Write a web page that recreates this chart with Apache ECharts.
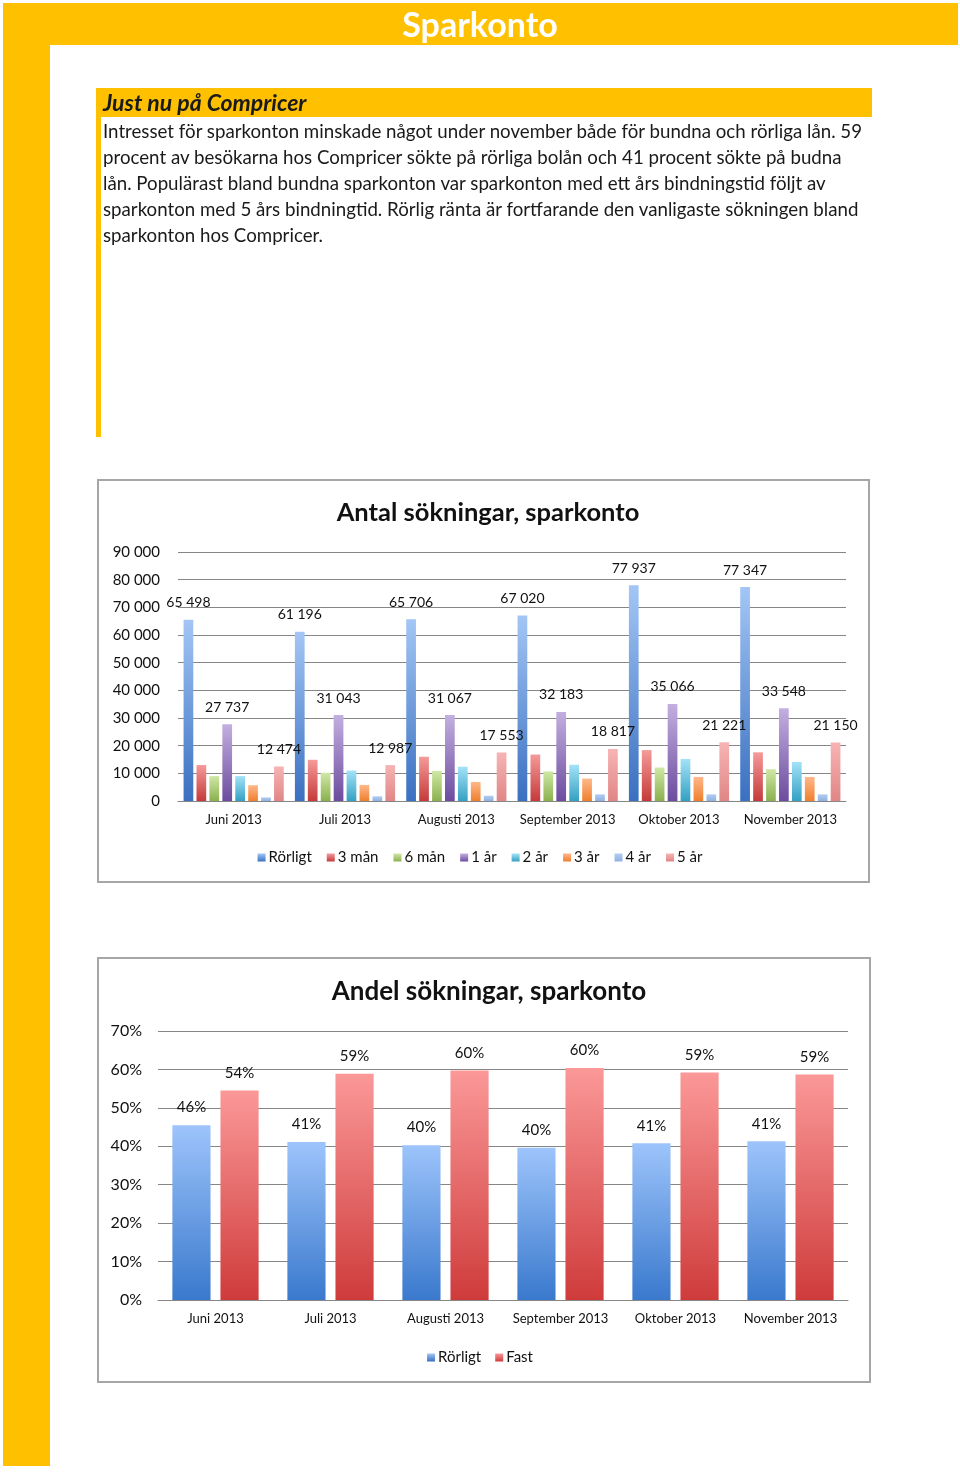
<!DOCTYPE html>
<html>
<head>
<meta charset="utf-8">
<script src="https://cdn.jsdelivr.net/npm/echarts@6/dist/echarts.min.js"></script>
<style>
  html, body { margin:0; padding:0; background:#fff; }
  #chart { position:absolute; left:0; top:0; width:960px; height:1474px; }
  .txt { position:absolute; font-family: Lato, "Open Sans", sans-serif; color:#1a1a1a; }
  #head { left:0; top:3px; width:960px; text-align:center; color:#fff; font-weight:bold; font-size:34px; line-height:42px; }
  #sub { left:103px; top:87px; font-weight:bold; font-style:italic; font-size:23px; line-height:30px; }
  #para { left:103px; top:118px; font-size:18.7px; line-height:26px; white-space:pre; }
</style>
</head>
<body>
<div id="chart"></div>
<div class="txt" id="head">Sparkonto</div>
<div class="txt" id="sub">Just nu på Compricer</div>
<div class="txt" id="para">Intresset för sparkonton minskade något under november både för bundna och rörliga lån. 59
procent av besökarna hos Compricer sökte på rörliga bolån och 41 procent sökte på budna
lån. Populärast bland bundna sparkonton var sparkonton med ett års bindningstid följt av
sparkonton med 5 års bindningtid. Rörlig ränta är fortfarande den vanligaste sökningen bland
sparkonton hos Compricer.</div>
<script>
// ---- Data ----
const months = ['Juni 2013','Juli 2013','Augusti 2013','September 2013','Oktober 2013','November 2013'];
const seriesNames = ['Rörligt','3 mån','6 mån','1 år','2 år','3 år','4 år','5 år'];
const rorligt = [65498, 61196, 65706, 67020, 77937, 77347];
const man3   = [13000, 14900, 16000, 16800, 18400, 17600];
const man6   = [9000, 10200, 10900, 10700, 12100, 11500];
const ar1    = [27737, 31043, 31067, 32183, 35066, 33548];
const ar2    = [9000, 11000, 12400, 13100, 15200, 14100];
const ar3    = [5700, 5800, 6900, 8100, 8700, 8700];
const ar4    = [1300, 1700, 1900, 2400, 2400, 2400];
const ar5    = [12474, 12987, 17553, 18817, 21221, 21150];
const labelledSeries = ['Rörligt','1 år','5 år'];

const shareNames = ['Rörligt','Fast'];
const shareRorligt = [45.5, 41.1, 40.3, 39.6, 40.8, 41.3];
const shareFast    = [54.5, 58.9, 59.7, 60.4, 59.2, 58.7];
const shareLabelsR = ['46%','41%','40%','40%','41%','41%'];
const shareLabelsF = ['54%','59%','60%','60%','59%','59%'];

const countTicks = ['0','10 000','20 000','30 000','40 000','50 000','60 000','70 000','80 000','90 000'];
const pctTicks = ['0%','10%','20%','30%','40%','50%','60%','70%'];

// ---- Styles ----
const FONT = 'Lato, "Open Sans", sans-serif';
function grad(top, bottom) {
  return { type:'linear', x:0, y:0, x2:0, y2:1, colorStops:[{offset:0,color:top},{offset:1,color:bottom}] };
}
const countColors = [
  grad('#a3c6f5','#3a70c0'),
  grad('#f59a9a','#c53a3a'),
  grad('#cfe8a6','#8bb04e'),
  grad('#c3afe0','#6c4c9e'),
  grad('#a3e2f8','#35a0c2'),
  grad('#ffb88a','#ef7f2e'),
  grad('#b2cdf2','#8fb0e0'),
  grad('#f7b4b4','#e08686')
];
const shareColors = [grad('#9dc4fb','#3a79cd'), grad('#fb9898','#cf3b3b')];
const fmt = v => String(Math.round(v)).replace(/\B(?=(\d{3})+(?!\d))/g, ' ');

const countData = [rorligt, man3, man6, ar1, ar2, ar3, ar4, ar5];

const series = [];
countData.forEach((d, i) => {
  const name = seriesNames[i];
  series.push({
    type:'bar', name, xAxisIndex:0, yAxisIndex:0, data:d,
    barGap:'33%', barCategoryGap:'10%',
    itemStyle:{ color:countColors[i] },
    label:{ show: labelledSeries.includes(name), position:'top', distance:10,
            fontSize:14, color:'#111', fontFamily:FONT, formatter:p => fmt(p.value) }
  });
});
const shareData = [shareRorligt, shareFast];
const shareLabels = [shareLabelsR, shareLabelsF];
shareData.forEach((d, i) => {
  series.push({
    type:'bar', name:shareNames[i], xAxisIndex:1, yAxisIndex:1, data:d,
    barGap:'26%', barCategoryGap:'25%',
    itemStyle:{ color:shareColors[i] },
    label:{ show:true, position:'top', distance:10, fontSize:15, color:'#111', fontFamily:FONT,
            formatter:p => shareLabels[i][p.dataIndex] }
  });
});

const chart = echarts.init(document.getElementById('chart'), null, {renderer:'canvas'});
chart.setOption({
  animation:false,
  textStyle:{ fontFamily:FONT },
  graphic:[
    { type:'rect', z:-10, shape:{x:3,y:3,width:955,height:42}, style:{fill:'#ffc000'} },
    { type:'rect', z:-10, shape:{x:3,y:3,width:47,height:1463}, style:{fill:'#ffc000'} },
    { type:'rect', z:-10, shape:{x:100,y:88,width:772,height:29}, style:{fill:'#ffc000'} },
    { type:'rect', z:-10, shape:{x:96,y:88,width:5,height:349}, style:{fill:'#ffc000'} },
    { type:'rect', z:-10, shape:{x:98,y:480,width:771,height:402}, style:{fill:'#fff', stroke:'#a6a6a6', lineWidth:2} },
    { type:'rect', z:-10, shape:{x:98,y:958,width:772,height:424}, style:{fill:'#fff', stroke:'#a6a6a6', lineWidth:2} }
  ],
  title:[
    { text:'Antal sökningar, sparkonto', left:483, top:495, textAlign:'center',
      textStyle:{ fontSize:25.5, fontWeight:'bold', color:'#111', fontFamily:FONT } },
    { text:'Andel sökningar, sparkonto', left:484, top:974, textAlign:'center',
      textStyle:{ fontSize:26, fontWeight:'bold', color:'#111', fontFamily:FONT } }
  ],
  legend:[
    { data:seriesNames, top:845, left:'center', itemWidth:8, itemHeight:8, itemGap:15, icon:'rect',
      textStyle:{ fontSize:15, color:'#111', fontFamily:FONT, padding:[0,0,0,-2] } },
    { data:shareNames, top:1345, left:'center', itemWidth:8, itemHeight:8, itemGap:14, icon:'rect',
      textStyle:{ fontSize:15, color:'#111', fontFamily:FONT, padding:[0,0,0,-2] } }
  ],
  grid:[
    { left:178, top:552, width:668, height:249, containLabel:false },
    { left:158, top:1031, width:690, height:269, containLabel:false }
  ],
  xAxis:[
    { type:'category', gridIndex:0, data:months,
      axisLine:{ lineStyle:{ color:'#868686', width:1 } }, axisTick:{show:false},
      axisLabel:{ interval:0, fontSize:13, color:'#111', margin:12, fontFamily:FONT } },
    { type:'category', gridIndex:1, data:months,
      axisLine:{ lineStyle:{ color:'#868686', width:1 } }, axisTick:{show:false},
      axisLabel:{ interval:0, fontSize:13, color:'#111', margin:12, fontFamily:FONT } }
  ],
  yAxis:[
    { type:'value', gridIndex:0, min:0, max:90000, interval:10000,
      axisLine:{show:false}, axisTick:{show:false},
      splitLine:{ lineStyle:{ color:'#868686', width:1 } },
      axisLabel:{ fontSize:15, color:'#111', margin:18, fontFamily:FONT,
                  formatter:(v) => countTicks[Math.round(v/10000)] } },
    { type:'value', gridIndex:1, min:0, max:70, interval:10,
      axisLine:{show:false}, axisTick:{show:false},
      splitLine:{ lineStyle:{ color:'#868686', width:1 } },
      axisLabel:{ fontSize:16, color:'#111', margin:16, fontFamily:FONT,
                  formatter:(v) => pctTicks[Math.round(v/10)] } }
  ],
  series
});
</script>
</body>
</html>
